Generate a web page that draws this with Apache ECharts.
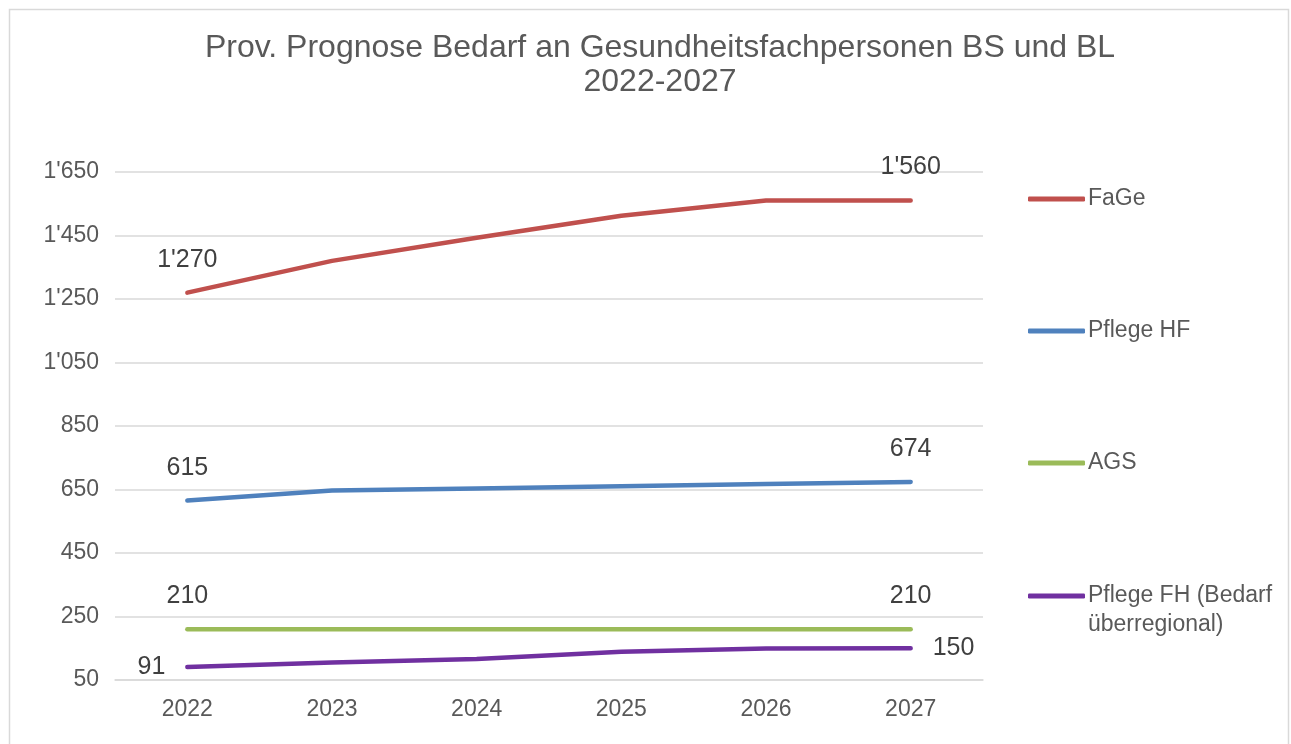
<!DOCTYPE html>
<html>
<head>
<meta charset="utf-8">
<title>Prov. Prognose Bedarf an Gesundheitsfachpersonen</title>
<script src="https://cdn.jsdelivr.net/npm/echarts@6/dist/echarts.min.js"></script>
<style>
  html, body { margin: 0; padding: 0; background: #fff; }
  #chart { width: 1291px; height: 744px; }
</style>
</head>
<body>
<div id="chart"></div>
<script>
// values
const years = ['2022', '2023', '2024', '2025', '2026', '2027']
const fage = [1270, 1370, 1443, 1512, 1560, 1560]
const pflegeHF = [615, 647, 653, 660, 667, 674]
const ags = [210, 210, 210, 210, 210, 210]
const pflegeFH = [91, 105, 116, 139, 149, 150]

const seriesNames = ['FaGe', 'Pflege HF', 'AGS', 'Pflege FH (Bedarf überregional)']
const seriesColors = ['#C0504D', '#4F81BD', '#9BBB59', '#7030A0']
const yTicks = { min: 50, max: 1650, step: 200 }
const titleText = 'Prov. Prognose Bedarf an Gesundheitsfachpersonen BS und BL\n2022-2027'

const font = '"Liberation Sans", Arial, sans-serif'
const textGray = '#595959'
const gridGray = '#d9d9d9'

// 1'270 style thousands separator
const fmt = v => String(v).replace(/\B(?=(\d{3})+(?!\d))/g, "'")

// only first and last point carry a label
function withEndLabels (values, firstPos, lastPos) {
  return values.map((v, i) => {
    if (i === 0) return { value: v, label: { show: true, position: firstPos } }
    if (i === values.length - 1) return { value: v, label: { show: true, position: lastPos } }
    return v
  })
}

const seriesData = [
  withEndLabels(fage, 'top', 'top'),
  withEndLabels(pflegeHF, 'top', 'top'),
  withEndLabels(ags, 'top', 'top'),
  withEndLabels(pflegeFH, 'left', 'right')
]

const legendTops = [199, 331, 463, 596]

const chart = echarts.init(document.getElementById('chart'))

const option = {
  animation: false,
  backgroundColor: '#fff',
  textStyle: { fontFamily: font },
  graphic: [{
    type: 'rect',
    silent: true,
    z: -10,
    shape: { x: 9.5, y: 9.5, width: 1279, height: 780 },
    style: { fill: 'none', stroke: gridGray, lineWidth: 1.5 }
  }, {
    // title is centred over the whole frame incl. legend, slightly right of canvas centre
    type: 'text',
    silent: true,
    x: 660,
    y: 31,
    style: {
      text: titleText,
      align: 'center',
      verticalAlign: 'top',
      fontFamily: font,
      fontSize: 32,
      lineHeight: 34,
      fill: textGray
    }
  }],
  legend: seriesNames.map((name, i) => {
    const multi = i === 3
    return {
      data: [name],
      orient: 'vertical',
      left: 1028,
      top: multi ? legendTops[i] - 43.5 : legendTops[i] - 14.5,
      padding: 0,
      icon: 'roundRect',
      itemWidth: 57,
      itemHeight: 5,
      itemGap: 4,
      selectedMode: false,
      formatter: n => multi ? '\nPflege FH (Bedarf\nüberregional)' : n,
      textStyle: { fontFamily: font, fontSize: 23, color: textGray, lineHeight: 29, padding: [0, 0, 0, -2] }
    }
  }),
  grid: { left: 115, right: 308, top: 172, bottom: 64, containLabel: false },
  xAxis: {
    type: 'category',
    data: years,
    boundaryGap: true,
    axisLine: { show: true, lineStyle: { color: gridGray, width: 1.5 } },
    axisTick: { show: false },
    axisLabel: { color: textGray, fontSize: 23, fontFamily: font, margin: 18 }
  },
  yAxis: {
    type: 'value',
    min: yTicks.min,
    max: yTicks.max,
    interval: yTicks.step,
    axisLine: { show: false },
    axisTick: { show: false },
    splitLine: { lineStyle: { color: gridGray, width: 1.5 } },
    axisLabel: { color: textGray, fontSize: 23, fontFamily: font, margin: 16, formatter: v => fmt(v) }
  },
  series: seriesNames.map((name, i) => ({
    name,
    type: 'line',
    data: seriesData[i],
    color: seriesColors[i],
    symbol: 'circle',
    symbolSize: 0,
    lineStyle: { width: 4.5, cap: 'round', join: 'round', color: seriesColors[i] },
    itemStyle: { color: seriesColors[i] },
    label: {
      show: false,
      color: '#404040',
      fontSize: 25,
      fontFamily: font,
      lineHeight: 30,
      distance: i === 3 ? 22 : 18,
      formatter: p => fmt(p.value)
    },
    emphasis: { disabled: true }
  }))
}

chart.setOption(option)
</script>
</body>
</html>
